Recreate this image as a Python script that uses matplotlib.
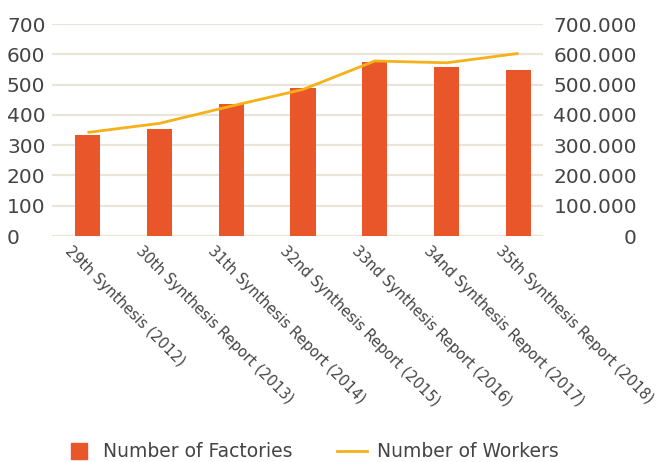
import matplotlib
matplotlib.use("Agg")
import matplotlib.pyplot as plt
import matplotlib.transforms as mtransforms
from matplotlib.lines import Line2D
from matplotlib.ticker import FuncFormatter

plt.rcParams['font.family'] = ['DejaVu Sans']

# --- Data ---
reports = [
    "29th Synthesis (2012)",
    "30th Synthesis Report (2013)",
    "31th Synthesis Report (2014)",
    "32nd Synthesis Report (2015)",
    "33nd Synthesis Report (2016)",
    "34nd Synthesis Report (2017)",
    "35th Synthesis Report (2018)",
]
factories = [333, 353, 436, 488, 574, 558, 548]
workers = [342000, 372000, 429000, 484000, 578000, 572000, 603000]

bar_color = "#e8562a"
line_color = "#f4b118"
grid_color = "#e9e4d7"
text_color = "#444444"

fig = plt.figure(figsize=(6.59, 4.62), dpi=100)
ax = fig.add_axes([0.0789, 0.489, 0.745, 0.459])
ax2 = ax.twinx()

x = list(range(len(reports)))
ax.bar(x, factories, width=0.35, color=bar_color, zorder=2)
ax2.plot(x, workers, color=line_color, lw=2.0, solid_capstyle="butt")

ax.set_xlim(-0.494, 6.34)
ax.set_ylim(0, 700)
ax2.set_ylim(0, 700000)
ax.set_yticks(range(0, 701, 100))
ax2.set_yticks(range(0, 700001, 100000))
ax2.yaxis.set_major_formatter(
    FuncFormatter(lambda v, p: "0" if v == 0 else f"{int(v):,}".replace(",", ".")))

ax.set_axisbelow(True)
ax.yaxis.grid(True, color=grid_color, lw=1.6)
for a in (ax, ax2):
    for s in a.spines.values():
        s.set_visible(False)

# y tick labels (left side left-aligned, right side right-aligned)
ax.tick_params(axis="y", length=0, pad=32.4, labelsize=14.5, labelcolor=text_color)
for lbl in ax.get_yticklabels():
    lbl.set_horizontalalignment("left")
ax2.tick_params(axis="y", length=0, pad=67.7, labelsize=14.5, labelcolor=text_color)
for lbl in ax2.get_yticklabels():
    lbl.set_horizontalalignment("right")

# x tick labels rotated
ax.set_xticks(x)
ax.set_xticklabels(reports, rotation=-45, ha="left", va="top",
                   rotation_mode="anchor", fontsize=10.5, color=text_color)
ax.tick_params(axis="x", length=0, pad=0)
shift = mtransforms.ScaledTranslation(-11 / 72, -5 / 72, fig.dpi_scale_trans)
for lbl in ax.get_xticklabels():
    lbl.set_transform(lbl.get_transform() + shift)

# legend
handles = [
    Line2D([], [], marker="s", linestyle="none", markersize=11.5,
           markerfacecolor=bar_color, markeredgecolor=bar_color),
    Line2D([], [], color=line_color, lw=2.0),
]
fig.legend(handles, ["Number of Factories", "Number of Workers"],
           loc="center", bbox_to_anchor=(0.472, 0.022), ncol=2, frameon=False,
           fontsize=13.5, handlelength=1.6, handletextpad=0.5, columnspacing=2.4,
           labelcolor=text_color, borderpad=0, borderaxespad=0)

fig.savefig("out.png", dpi=100)
